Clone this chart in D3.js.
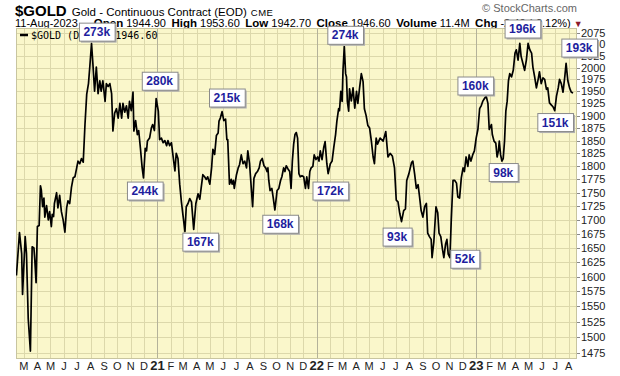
<!DOCTYPE html>
<html><head><meta charset="utf-8">
<script src="https://cdn.jsdelivr.net/npm/d3@7"></script>
<style>body{margin:0;background:#fff}svg{display:block}</style>
</head><body><svg id="c" width="620" height="376"></svg>
<script>
// ---------- DATA ----------
const goldCloses = [
["2020-02-13",1602],["2020-02-20",1677],["2020-02-25",1640],["2020-02-27",1570],["2020-03-04",1670],["2020-03-07",1640],
["2020-03-11",1530],["2020-03-16",1478],["2020-03-20",1652],["2020-03-24",1650],["2020-03-26",1630],["2020-03-29",1590],
["2020-04-01",1688],["2020-04-05",1690],["2020-04-08",1763],["2020-04-10",1755],["2020-04-13",1724],["2020-04-16",1740],
["2020-04-18",1705],["2020-04-22",1726],["2020-04-26",1700],["2020-04-29",1715],["2020-05-03",1688],["2020-05-05",1710],
["2020-05-08",1706],["2020-05-10",1730],["2020-05-15",1750],["2020-05-18",1722],["2020-05-22",1745],["2020-05-26",1715],
["2020-05-30",1700],["2020-06-03",1678],["2020-06-07",1722],["2020-06-10",1735],["2020-06-14",1730],["2020-06-18",1760],
["2020-06-22",1778],["2020-06-26",1780],["2020-06-30",1797],["2020-07-03",1810],["2020-07-07",1805],["2020-07-11",1815],
["2020-07-15",1808],["2020-07-19",1882],["2020-07-23",1944],["2020-07-27",1966],["2020-07-30",2001],["2020-08-03",2052],
["2020-08-06",2010],["2020-08-10",1950],["2020-08-14",2001],["2020-08-18",1945],["2020-08-22",1972],["2020-08-25",1950],
["2020-08-29",1972],["2020-09-03",1929],["2020-09-06",1966],["2020-09-10",1960],["2020-09-14",1966],["2020-09-18",1945],
["2020-09-21",1869],["2020-09-25",1905],["2020-09-29",1914],["2020-10-03",1895],["2020-10-07",1925],["2020-10-11",1895],
["2020-10-14",1925],["2020-10-18",1907],["2020-10-22",1920],["2020-10-26",1895],["2020-10-29",1929],["2020-11-02",1910],
["2020-11-06",1948],["2020-11-08",1869],["2020-11-12",1890],["2020-11-16",1862],["2020-11-19",1870],["2020-11-23",1835],
["2020-11-27",1797],["2020-11-30",1778],["2020-12-04",1835],["2020-12-07",1830],["2020-12-09",1849],["2020-12-14",1855],
["2020-12-18",1875],["2020-12-21",1882],["2020-12-25",1870],["2020-12-29",1935],
["2021-01-03",1909],["2021-01-06",1852],["2021-01-10",1855],["2021-01-14",1846],["2021-01-18",1850],["2021-01-22",1840],
["2021-01-25",1850],["2021-01-29",1840],["2021-02-02",1846],["2021-02-06",1818],["2021-02-10",1791],["2021-02-13",1825],
["2021-02-17",1815],["2021-02-21",1766],["2021-02-25",1732],["2021-03-01",1705],["2021-03-05",1679],["2021-03-08",1724],
["2021-03-12",1730],["2021-03-16",1739],["2021-03-20",1733],["2021-03-25",1683],["2021-03-30",1730],["2021-04-04",1748],
["2021-04-08",1738],["2021-04-11",1758],["2021-04-15",1784],["2021-04-19",1780],["2021-04-23",1775],["2021-04-26",1780],
["2021-05-01",1766],["2021-05-05",1797],["2021-05-08",1833],["2021-05-12",1823],["2021-05-16",1860],["2021-05-20",1865],
["2021-05-22",1889],["2021-05-25",1895],["2021-05-29",1908],["2021-06-02",1890],["2021-06-06",1893],["2021-06-09",1852],
["2021-06-11",1852],["2021-06-15",1766],["2021-06-19",1775],["2021-06-21",1766],["2021-06-24",1773],["2021-06-26",1758],
["2021-07-01",1784],["2021-07-05",1797],["2021-07-08",1803],["2021-07-12",1822],["2021-07-16",1805],["2021-07-20",1810],
["2021-07-24",1797],["2021-07-27",1830],["2021-07-31",1805],["2021-08-04",1758],["2021-08-07",1724],["2021-08-10",1777],
["2021-08-14",1786],["2021-08-18",1790],["2021-08-22",1797],["2021-08-25",1810],["2021-08-29",1815],["2021-09-02",1801],
["2021-09-06",1797],["2021-09-09",1790],["2021-09-11",1797],["2021-09-13",1773],["2021-09-16",1754],["2021-09-20",1758],
["2021-09-23",1742],["2021-09-27",1718],["2021-10-02",1754],["2021-10-06",1758],["2021-10-10",1773],["2021-10-13",1780],
["2021-10-17",1797],["2021-10-20",1790],["2021-10-23",1801],["2021-10-27",1795],["2021-10-31",1790],["2021-11-03",1758],
["2021-11-06",1810],["2021-11-09",1843],["2021-11-12",1862],["2021-11-15",1866],["2021-11-18",1855],["2021-11-21",1786],
["2021-11-24",1780],["2021-11-28",1782],["2021-12-02",1780],["2021-12-06",1758],["2021-12-09",1780],["2021-12-13",1758],
["2021-12-16",1790],["2021-12-19",1797],["2021-12-23",1800],["2021-12-26",1822],["2021-12-30",1813],
["2022-01-03",1818],["2022-01-06",1810],["2022-01-09",1830],["2022-01-13",1813],["2022-01-17",1837],["2022-01-20",1848],
["2022-01-24",1805],["2022-01-27",1786],["2022-02-01",1805],["2022-02-05",1810],["2022-02-09",1837],["2022-02-13",1862],
["2022-02-16",1889],["2022-02-20",1914],["2022-02-22",1910],["2022-02-25",1950],["2022-02-28",1929],["2022-03-02",1994],
["2022-03-05",2045],["2022-03-08",1987],["2022-03-10",1980],["2022-03-12",1929],["2022-03-15",1909],["2022-03-17",1955],
["2022-03-21",1930],["2022-03-25",1957],["2022-03-29",1915],["2022-04-02",1950],["2022-04-05",1925],["2022-04-09",1957],
["2022-04-13",1987],["2022-04-17",1970],["2022-04-20",1914],["2022-04-24",1900],["2022-04-28",1880],["2022-05-02",1875],
["2022-05-06",1849],["2022-05-10",1818],["2022-05-13",1805],["2022-05-17",1855],["2022-05-20",1843],["2022-05-26",1855],
["2022-06-02",1849],["2022-06-08",1868],["2022-06-13",1818],["2022-06-18",1825],["2022-06-23",1820],["2022-06-28",1797],
["2022-07-02",1736],["2022-07-06",1733],["2022-07-10",1712],["2022-07-14",1697],["2022-07-19",1717],["2022-07-23",1720],
["2022-07-26",1773],["2022-07-31",1786],["2022-08-06",1807],["2022-08-09",1810],["2022-08-13",1786],["2022-08-17",1758],
["2022-08-21",1765],["2022-08-24",1745],["2022-08-28",1717],["2022-09-01",1705],["2022-09-05",1724],["2022-09-09",1730],
["2022-09-12",1676],["2022-09-16",1670],["2022-09-20",1665],["2022-09-22",1633],["2022-09-26",1660],["2022-10-01",1724],
["2022-10-05",1713],["2022-10-08",1676],["2022-10-12",1670],["2022-10-16",1647],["2022-10-19",1633],["2022-10-23",1657],
["2022-10-26",1665],["2022-10-29",1639],["2022-11-02",1633],["2022-11-05",1700],["2022-11-09",1773],["2022-11-13",1773],
["2022-11-17",1768],["2022-11-20",1742],["2022-11-24",1740],["2022-11-28",1778],["2022-12-02",1797],["2022-12-05",1790],
["2022-12-09",1818],["2022-12-13",1800],["2022-12-16",1822],["2022-12-20",1810],["2022-12-24",1822],["2022-12-28",1830],
["2023-01-01",1855],["2023-01-05",1872],["2023-01-09",1914],["2023-01-13",1921],["2023-01-16",1929],["2023-01-20",1935],
["2023-01-24",1940],["2023-01-28",1925],["2023-01-31",1872],["2023-02-05",1882],["2023-02-07",1862],["2023-02-11",1849],
["2023-02-15",1845],["2023-02-18",1818],["2023-02-21",1830],["2023-02-23",1849],["2023-02-26",1822],["2023-03-01",1810],
["2023-03-04",1815],["2023-03-07",1849],["2023-03-10",1909],["2023-03-13",1929],["2023-03-16",1972],["2023-03-19",1987],
["2023-03-23",1980],["2023-03-27",1994],["2023-03-31",2031],["2023-04-03",2038],["2023-04-07",2016],["2023-04-11",2052],
["2023-04-14",2024],["2023-04-18",2009],["2023-04-22",1994],["2023-04-26",2016],["2023-04-30",2052],["2023-05-04",2038],
["2023-05-08",2031],["2023-05-11",2001],["2023-05-15",1980],["2023-05-19",1957],["2023-05-23",1975],["2023-05-26",1991],
["2023-05-30",1966],["2023-06-03",1978],["2023-06-07",1975],["2023-06-11",1954],["2023-06-14",1957],["2023-06-18",1926],
["2023-06-22",1922],["2023-06-26",1918],["2023-06-30",1910],["2023-07-04",1940],["2023-07-08",1957],["2023-07-11",1975],
["2023-07-15",1966],["2023-07-19",1948],["2023-07-23",1980],["2023-07-26",2009],["2023-07-30",1972],["2023-08-03",1957],
["2023-08-07",1948],["2023-08-11",1946.6]
];
// open-interest annotations: label, anchor date, anchor price (box centre)
const noteLabels = ["273k","280k","244k","167k","215k","168k","172k","274k","93k","52k","160k","98k","196k","151k","193k"];
const noteDates  = ["2020-08-15","2021-01-06","2020-12-03","2021-04-09","2021-06-09","2021-10-09","2022-02-01","2022-03-07",
                    "2022-07-04","2022-12-06","2022-12-30","2023-03-04","2023-04-17","2023-07-01","2023-08-25"];
const notePrices = [2078,1972,1754,1661,1937,1693,1754,2071,1670,1631,1962,1789,2085,1887,2043];
const yTicks = [1475,1500,1525,1550,1575,1600,1625,1650,1675,1700,1725,1750,1775,1800,1825,1850,1875,1900,1925,1950,1975,2000,2025,2050,2075];
const monthLetters = ["J","F","M","A","M","J","J","A","S","O","N","D"];
const xDomain = ["2020-02-12","2023-08-20"];
const headerInfo = [["Open","1944.90"],["High","1953.60"],["Low","1942.70"],["Close","1946.60"],["Volume","11.4M"],["Chg","-2.40 (-0.12%)"]];

// ---------- CHART ----------
const parse = d3.utcParse("%Y-%m-%d");
const series = goldCloses.map(d => ({date: parse(d[0]), close: d[1]}));
const svg = d3.select("#c");
const P = {l:16, r:577, t:28, b:359};
const x = d3.scaleUtc().domain(xDomain.map(parse)).range([P.l, P.r]);
const y = d3.scaleLog().domain([1475, 2075]).range([353, 33]);
const FONT = "Arial, 'Liberation Sans', sans-serif";

// header
const h1 = svg.append("text").attr("x", 15).attr("y", 16).attr("font-family", FONT).attr("fill", "#000");
h1.append("tspan").attr("font-weight", "bold").attr("font-size", 15).text("$GOLD");
h1.append("tspan").attr("dx", 5).attr("font-size", 11.5).text("Gold - Continuous Contract (EOD)");
h1.append("tspan").attr("dx", 4).attr("font-size", 9.5).attr("letter-spacing", 0.5).text("CME");
svg.append("text").attr("x", 577).attr("y", 12).attr("text-anchor", "end")
  .attr("font-family", FONT).attr("font-size", 11).attr("fill", "#666").text("\u00A9 StockCharts.com");
const h2 = svg.append("text").attr("x", 15).attr("y", 27).attr("font-family", FONT).attr("font-size", 11).attr("fill", "#000");
h2.append("tspan").text("11-Aug-2023");
headerInfo.forEach(([k, v], i) => {
  h2.append("tspan").attr("dx", i === 0 ? 16 : 5.5).attr("font-weight", "bold").attr("font-size", 11.5).text(k);
  h2.append("tspan").attr("dx", 3).text(v);
});
h2.append("tspan").attr("dx", 3).attr("fill", "#8a1c2c").attr("font-size", 9).text("\u25BC");

// plot background
svg.append("rect").attr("x", P.l).attr("y", P.t).attr("width", P.r - P.l).attr("height", P.b - P.t)
  .attr("fill", "#faf7cb");
svg.append("clipPath").attr("id", "clip").append("rect")
  .attr("x", P.l).attr("y", P.t).attr("width", P.r - P.l).attr("height", P.b - P.t);

// grid
const grid = svg.append("g").attr("clip-path", "url(#clip)");
grid.selectAll(".hg").data(yTicks).join("line")
  .attr("x1", P.l).attr("x2", P.r).attr("y1", d => Math.round(y(d)) + 0.5).attr("y2", d => Math.round(y(d)) + 0.5)
  .attr("stroke", "#dcd8ab").attr("stroke-width", 1);
const months = d3.utcMonth.range(x.domain()[0], x.domain()[1]);
grid.selectAll(".vg").data(months).join("line")
  .attr("y1", P.t).attr("y2", P.b).attr("x1", d => Math.round(x(d)) + 0.5).attr("x2", d => Math.round(x(d)) + 0.5)
  .attr("stroke", d => d.getUTCMonth() === 0 ? "#b4b29a" : "#dcd8ab").attr("stroke-width", 1);

// frame
svg.append("rect").attr("x", P.l + 0.5).attr("y", P.t + 0.5).attr("width", P.r - P.l - 1).attr("height", P.b - P.t - 1)
  .attr("fill", "none").attr("stroke", "#c8c5a0");

// price line
const line = d3.line().x(d => x(d.date)).y(d => y(d.close));
svg.append("path").datum(series).attr("clip-path", "url(#clip)").attr("d", line)
  .attr("fill", "none").attr("stroke", "#000").attr("stroke-width", 1.7).attr("stroke-linejoin", "round");

// right axis
const ax = svg.append("g");
ax.selectAll("line").data(yTicks).join("line")
  .attr("x1", P.r).attr("x2", P.r + 3).attr("y1", d => Math.round(y(d)) + 0.5).attr("y2", d => Math.round(y(d)) + 0.5)
  .attr("stroke", "#888");
ax.selectAll("text").data(yTicks).join("text")
  .attr("x", P.r + 4).attr("y", d => y(d) + 4).attr("font-family", FONT).attr("font-size", 11).attr("fill", "#222")
  .text(d => d);

// bottom axis
svg.append("g").selectAll("text").data(months).join("text")
  .attr("x", d => x(d)).attr("y", 370).attr("text-anchor", "middle").attr("font-family", FONT)
  .attr("font-size", d => d.getUTCMonth() === 0 ? 13 : 11)
  .attr("font-weight", d => d.getUTCMonth() === 0 ? "bold" : "normal")
  .attr("fill", "#222")
  .text(d => d.getUTCMonth() === 0 ? d3.utcFormat("%y")(d) : monthLetters[d.getUTCMonth()]);

// legend
svg.append("line").attr("x1", 20).attr("x2", 28).attr("y1", 35).attr("y2", 35).attr("stroke", "#000").attr("stroke-width", 2.5);
svg.append("text").attr("x", 31).attr("y", 39).attr("font-family", "'DejaVu Sans Mono', monospace").attr("font-size", 10)
  .attr("fill", "#000").text("$GOLD (Daily) 1946.60");

// annotations
const notes = noteLabels.map((t, i) => ({text: t, date: parse(noteDates[i]), price: notePrices[i]}));
const ng = svg.append("g").selectAll("g").data(notes).join("g")
  .attr("transform", d => `translate(${x(d.date)},${y(d.price)})`);
const labels = ng.append("text").attr("text-anchor", "middle").attr("y", 4.5)
  .attr("font-family", FONT).attr("font-weight", "bold").attr("font-size", 12).attr("fill", "#1e1e9e")
  .text(d => d.text);
labels.each(function(d) { d.w = this.getComputedTextLength() + 9; });
ng.insert("rect", "text").attr("x", d => -d.w / 2 + 2).attr("y", -9 + 2).attr("width", d => d.w).attr("height", 18)
  .attr("fill", "#b0b0b0");
ng.insert("rect", "text").attr("x", d => -d.w / 2 + 0.5).attr("y", -8.5).attr("width", d => d.w).attr("height", 18)
  .attr("fill", "#fff").attr("stroke", "#8a8a8a").attr("stroke-width", 1);
</script></body></html>
